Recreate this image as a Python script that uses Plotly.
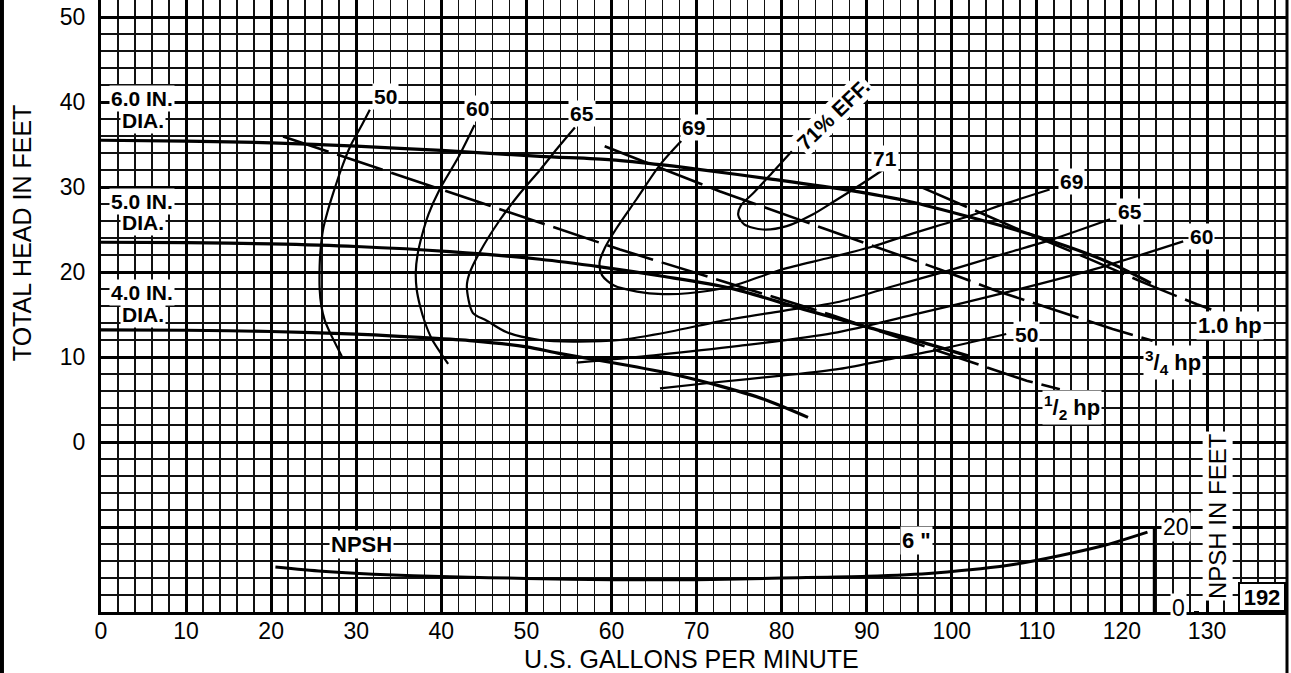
import plotly.graph_objects as go

# ---------------- data ----------------
# Head-capacity curves (gpm, total head ft)
dia6_q = [0, 10, 20, 30, 40, 51.6, 60, 66, 70, 79, 88, 95, 102, 109, 115, 119, 123.4]
dia6_h = [35.5, 35.4, 35.2, 34.8, 34.3, 33.6, 33.2, 32.6, 32.1, 30.9, 29.6, 28.3, 26.5, 24.5, 22.5, 20.9, 18.7]

dia5_q = [0, 10, 20, 30, 41, 51.6, 58.7, 66, 74, 82.6, 90.5, 96, 102]
dia5_h = [23.5, 23.45, 23.3, 23.0, 22.4, 21.5, 20.6, 19.5, 18.1, 15.6, 13.4, 11.9, 10.1]

dia4_q = [0, 10, 20, 30, 37.5, 43.7, 50, 54, 62, 68, 72.7, 78, 83.1]
dia4_h = [13.2, 13.15, 13.0, 12.7, 12.3, 11.9, 11.2, 10.4, 9.0, 7.8, 6.6, 5.0, 2.9]

# Iso-efficiency curves
eff50a_q = [31.6, 30.5, 29.3, 28.2, 27.3, 26.6, 26.1, 25.8, 25.7, 25.7, 25.9, 26.3, 26.9, 28.3]
eff50a_h = [39.1, 37.0, 34.8, 32.0, 29.3, 27.0, 25.0, 22.5, 20.7, 18.0, 16.0, 14.3, 12.9, 10.1]
eff50b_q = [65.7, 72, 80, 86.8, 93, 98.6, 106.4]
eff50b_h = [6.3, 7.0, 7.8, 8.6, 9.8, 10.9, 12.7]

eff60a_q = [43.9, 42.0, 39.8, 38.5, 37.7, 37.2, 37.0, 37.1, 37.5, 38.1, 38.9, 40.8]
eff60a_h = [37.3, 33.5, 29.7, 26.8, 24.2, 22.0, 20.0, 18.0, 16.0, 14.0, 12.1, 9.2]
eff60b_q = [55.9, 65, 75, 86, 96, 106.4, 117, 127.2]
eff60b_h = [9.35, 10.2, 11.3, 12.8, 15.1, 17.6, 20.4, 23.6]

eff65_q = [55.7, 53.6, 51.6, 49.2, 46.8, 44.5, 43.3, 43.0, 43.7, 45.3, 47.7, 51.6, 55.5, 61.0,
           67.0, 72.7, 80.0, 86.8, 93.0, 99.4, 105.0, 112.0, 118.6]
eff65_h = [37.0, 34.5, 32.0, 29.2, 26.0, 22.3, 19.8, 18.3, 15.2, 14.3, 12.9, 12.0, 11.8, 12.0,
           13.0, 14.2, 15.4, 16.5, 18.3, 20.1, 21.8, 23.9, 26.2]

eff69_q = [68.2, 65.7, 62.9, 60.5, 59.2, 58.6, 58.9, 60.3, 63.0, 66.0, 69.0, 74.0, 80.0, 85.7,
           90.7, 95.0, 101.8, 106.5, 111.5]
eff69_h = [35.4, 32.6, 28.5, 25.0, 22.8, 21.1, 19.6, 18.4, 17.7, 17.4, 17.5, 18.3, 20.3, 21.7,
           23.0, 24.4, 26.5, 28.1, 29.7]

eff71_q = [81.2, 79.0, 76.8, 75.2, 74.9, 75.6, 77.8, 80.6, 83.7, 86.0, 88.4, 91.9]
eff71_h = [34.2, 31.8, 29.4, 27.8, 26.7, 25.6, 25.0, 25.4, 26.8, 28.2, 29.7, 32.0]

# Brake horsepower lines
hp05_q = [21.4, 34.2, 39.8, 61.0, 85.7, 108.8, 112.7]
hp05_h = [35.95, 31.65, 29.7, 22.65, 15.0, 7.2, 6.2]
hp075_q = [59.2, 72.7, 85.3, 98.6, 105.2, 118.9, 123.6]
hp075_h = [34.8, 29.5, 25.0, 20.3, 17.8, 13.3, 11.9]
hp10_q = [96.6, 102.5, 108.8, 116.0, 122.9, 128.8, 130.5]
hp10_h = [29.9, 27.3, 24.6, 21.6, 18.6, 16.2, 15.6]

# NPSH required (gpm, NPSH ft)
npsh_q = [20.5, 26, 32, 41, 50, 60, 70, 80, 90, 98, 107.6, 117.4, 123]
npsh_ft = [10.6, 9.6, 8.9, 8.3, 7.9, 7.6, 7.6, 8.0, 8.4, 9.2, 11.3, 15.4, 18.8]

x_ticks = [0, 10, 20, 30, 40, 50, 60, 70, 80, 90, 100, 110, 120, 130]
y_ticks = [-10, 0, 10, 20, 30, 40, 50]
y_ticktext = [" ", "0", "10", "20", "30", "40", "50"]
npsh_ticks = [0, 20]

# ---------------- figure ----------------
FONT = "Liberation Sans, Arial, Helvetica, sans-serif"
fig = go.Figure()

def add_line(q, h, width, dash="solid", shape="spline", yaxis="y"):
    fig.add_trace(go.Scatter(x=q, y=h, mode="lines", yaxis=yaxis,
                             line=dict(color="black", width=width, dash=dash,
                                       shape=shape, smoothing=0.8),
                             hoverinfo="skip", showlegend=False))

for q, h in [(dia6_q, dia6_h), (dia5_q, dia5_h), (dia4_q, dia4_h)]:
    add_line(q, h, 3.2)
for q, h in [(eff50a_q, eff50a_h), (eff50b_q, eff50b_h), (eff60a_q, eff60a_h),
             (eff60b_q, eff60b_h), (eff65_q, eff65_h), (eff69_q, eff69_h), (eff71_q, eff71_h)]:
    add_line(q, h, 2.2)
for q, h in [(hp05_q, hp05_h), (hp075_q, hp075_h), (hp10_q, hp10_h)]:
    add_line(q, h, 2.6, dash="48px,9px", shape="linear")
add_line(npsh_q, npsh_ft, 3.0, yaxis="y2")

grid_minor = dict(tickmode="linear", tick0=0, dtick=2, showgrid=True,
                  gridcolor="#111111", gridwidth=1.5, ticks="")

fig.update_layout(
    width=1291, height=673,
    margin=dict(l=101, r=4, t=0, b=61),
    paper_bgcolor="white", plot_bgcolor="white",
    font=dict(family=FONT, color="black"),
    xaxis=dict(range=[0, 139.4], tickmode="array", tickvals=x_ticks,
               showgrid=True, gridcolor="black", gridwidth=3,
               minor=grid_minor, zeroline=False,
               showline=True, linecolor="black", linewidth=3,
               ticks="", ticklabelstandoff=-4, tickfont=dict(size=23, family=FONT)),
    yaxis=dict(range=[-20, 52], tickmode="array", tickvals=y_ticks, ticktext=y_ticktext,
               showgrid=True, gridcolor="black", gridwidth=3,
               minor=grid_minor, zeroline=False,
               showline=True, linecolor="black", linewidth=3,
               ticks="", ticklabelstandoff=8, tickfont=dict(size=23, family=FONT)),
    yaxis2=dict(range=[0, 144], overlaying="y", anchor="free", position=0.9258,
                side="left", tickmode="array", tickvals=npsh_ticks,
                showticklabels=False, ticks="outside", ticklen=5, tickwidth=2,
                tickcolor="black", showgrid=False, zeroline=False, showline=False),
)

ann = []
def label(text, x, y, size=21, bold=True, angle=0, yref="y", **kw):
    t = f"<b>{text}</b>" if bold else text
    ann.append(dict(text=t, x=x, y=y, xref="x", yref=yref, showarrow=False,
                    textangle=angle, bgcolor="white", borderpad=1,
                    font=dict(size=size, family=FONT, color="black"), **kw))

# diameter labels
label("6.0 IN.", 4.78, 40.46)
label("DIA.", 4.94, 37.79)
label("5.0 IN.", 4.78, 28.32)
label("DIA.", 4.94, 25.82)
label("4.0 IN.", 4.78, 17.57)
label("DIA.", 4.94, 15.02)
# efficiency labels
label("50", 33.4, 40.6)
label("60", 44.2, 39.2)
label("65", 56.5, 38.6)
label("69", 69.6, 37.0)
label("71% EFF.", 86.1, 38.5, angle=-44)
label("71", 92.1, 33.4)
label("69", 114.1, 30.7)
label("65", 120.9, 27.1)
label("60", 129.3, 24.2)
label("50", 108.8, 12.7)
# horsepower labels
label("1.0 hp", 132.7, 13.65, size=22)
label("<sup>3</sup>/<sub>4</sub> hp", 126.0, 9.35, size=22)
label("<sup>1</sup>/<sub>2</sub> hp", 114.1, 4.1, size=22)
# NPSH section
label("NPSH", 30.6, -12.1, size=22)
label('6 "', 95.8, -11.6, size=22)
label("20", 126.4, 20, size=23, bold=False, yref="y2")
label("0", 126.6, 0, size=23, bold=False, yref="y2", yshift=4)
label("NPSH IN FEET", 131.3, -8.7, size=24, bold=False, angle=-90)
ann.append(dict(text="<b>192</b>", x=136.5, y=-18.25, xref="x", yref="y",
                showarrow=False, bgcolor="white", bordercolor="black", borderwidth=2,
                width=44, height=26, borderpad=0,
                font=dict(size=22, family=FONT, color="black")))
# axis titles
ann.append(dict(text="TOTAL HEAD IN FEET", x=-0.0666, y=0.619, xref="paper", yref="paper",
                showarrow=False, textangle=-90, xanchor="center", yanchor="middle",
                font=dict(size=25, family=FONT, color="black")))
ann.append(dict(text="U.S. GALLONS PER MINUTE", x=69.4, y=-0.0765, xref="x", yref="paper",
                showarrow=False, xanchor="center", yanchor="middle",
                font=dict(size=25, family=FONT, color="black")))
fig.update_layout(annotations=ann)

# frame and NPSH box edge
fig.add_shape(type="line", xref="paper", yref="paper", x0=-0.0835, x1=-0.0835,
              y0=-0.1, y1=1.0, line=dict(color="black", width=4))
fig.add_shape(type="line", xref="paper", yref="paper", x0=1.0, x1=1.0,
              y0=-0.1, y1=1.0, line=dict(color="black", width=3))
fig.add_shape(type="line", xref="x", yref="y", x0=123.8, x1=123.8, y0=-20, y1=-10,
              line=dict(color="black", width=3))

fig.write_html("out.html", config={"displayModeBar": False, "staticPlot": True},
               post_script="document.body.style.margin='0';document.body.style.overflow='hidden';")
